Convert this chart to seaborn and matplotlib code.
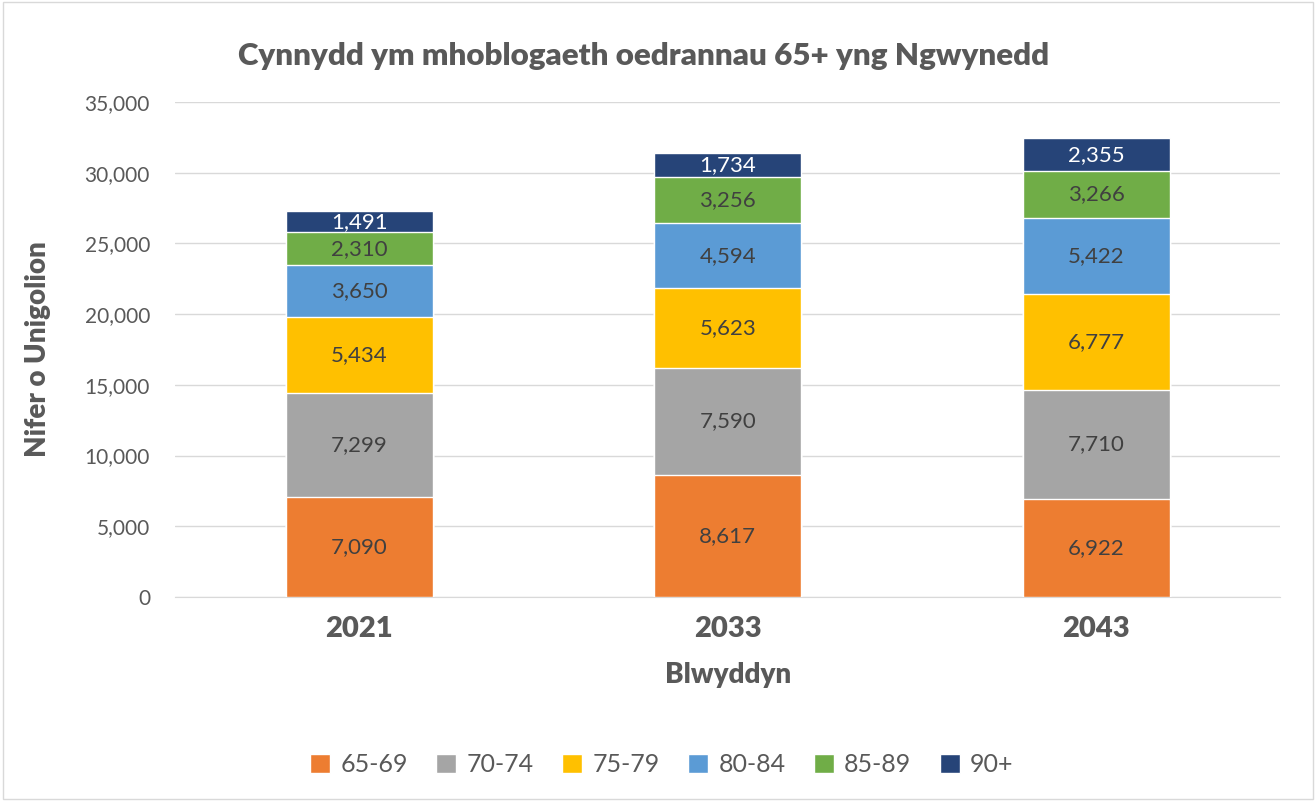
import numpy as np
import pandas as pd
import matplotlib
matplotlib.use('Agg')
import matplotlib.pyplot as plt
import seaborn as sns
from matplotlib.patches import Patch

# --- DATA ---
years = ['2021', '2033', '2043']
age_groups = ['65-69', '70-74', '75-79', '80-84', '85-89', '90+']
v_65_69 = [7090, 8617, 6922]
v_70_74 = [7299, 7590, 7710]
v_75_79 = [5434, 5623, 6777]
v_80_84 = [3650, 4594, 5422]
v_85_89 = [2310, 3256, 3266]
v_90_plus = [1491, 1734, 2355]
colors = ['#ED7D31', '#A5A5A5', '#FFC000', '#5B9BD5', '#70AD47', '#264478']

sns.set_style('white')
plt.rcParams['font.family'] = ['Lato', 'DejaVu Sans']

df = pd.DataFrame({'year': years, '65-69': v_65_69, '70-74': v_70_74,
                   '75-79': v_75_79, '80-84': v_80_84, '85-89': v_85_89,
                   '90+': v_90_plus})
cum = df[age_groups].cumsum(axis=1)

fig = plt.figure(figsize=(13.16, 8.01), dpi=100)
ax = fig.add_axes([0.133, 0.2547, 0.84, 0.618])

# overlapping cumulative bars, tallest first
for grp, col in reversed(list(zip(age_groups, colors))):
    sns.barplot(x=df['year'], y=cum[grp], color=col, width=0.4,
                saturation=1, ax=ax, zorder=3)

# value labels
for i in range(len(years)):
    for j, grp in enumerate(age_groups):
        val = df[grp].iloc[i]
        mid = cum[grp].iloc[i] - val / 2
        ax.text(i, mid, f"{val:,}", ha='center', va='center', fontsize=16,
                color='white' if grp == '90+' else '#404040', zorder=4)

ax.set_ylim(0, 35000)
ax.set_xlim(-0.5, 2.5)
ax.set_yticks(np.arange(0, 35001, 5000))
ax.yaxis.set_major_formatter(matplotlib.ticker.FuncFormatter(lambda v, p: f"{int(v):,}"))
ax.grid(axis='y', color='#D9D9D9', linewidth=1, zorder=0)
ax.set_axisbelow(True)
for s in ['top', 'right', 'left']:
    ax.spines[s].set_visible(False)
ax.spines['bottom'].set_color('#D9D9D9')
ax.tick_params(axis='y', length=0, labelsize=15, labelcolor='#595959', pad=18)
ax.tick_params(axis='x', length=0, labelsize=21, labelcolor='#595959', pad=14)
for lbl in ax.get_xticklabels():
    lbl.set_fontweight('heavy')

ax.set_xlabel('Blwyddyn', fontsize=20, fontweight='heavy', color='#595959', labelpad=14)
ax.set_ylabel('Nifer o Unigolion', fontsize=20, fontweight='heavy', color='#595959', labelpad=24)
fig.text(0.489, 0.93, 'Cynnydd ym mhoblogaeth oedrannau 65+ yng Ngwynedd',
         ha='center', va='center', fontsize=22.5, fontweight='heavy', color='#595959')

handles = [Patch(facecolor=c, label=g) for g, c in zip(age_groups, colors)]
fig.legend(handles=handles, loc='center', bbox_to_anchor=(0.503, 0.045), ncol=6,
           frameon=False, fontsize=18, handlelength=0.8, handleheight=0.8,
           columnspacing=1.15, handletextpad=0.4, labelcolor='#595959')

# figure border
fig.patches.append(plt.Rectangle((0.002, 0.002), 0.996, 0.996, transform=fig.transFigure,
                                 fill=False, edgecolor='#D9D9D9', linewidth=1))

fig.savefig('out.png', dpi=100)
